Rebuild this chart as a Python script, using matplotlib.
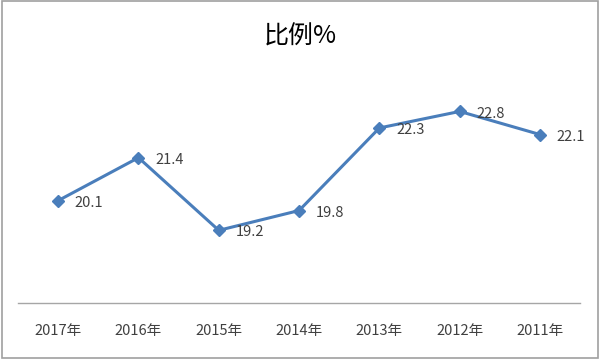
import matplotlib.pyplot as plt
from matplotlib.patches import Rectangle

plt.rcParams['font.family'] = ['Noto Sans CJK SC', 'DejaVu Sans']

# data
years = ['2017年', '2016年', '2015年', '2014年', '2013年', '2012年', '2011年']
ratio = [20.1, 21.4, 19.2, 19.8, 22.3, 22.8, 22.1]

fig = plt.figure(figsize=(6, 3.59), dpi=100)
ax = fig.add_axes([0.03, 0.156, 0.937, 0.644])

x = list(range(len(years)))
ax.plot(x, ratio, color='#4a7ebb', lw=2.2, marker='D', ms=6, zorder=3)

for xi, v in zip(x, ratio):
    ax.annotate(f'{v}', (xi, v), xytext=(12, -1.5), textcoords='offset points',
                va='center', ha='left', fontsize=10.5, color='#404040')

ax.set_xlim(-0.5, len(years) - 0.5)
ax.set_ylim(17, 24)
ax.set_xticks(x)
ax.set_xticklabels(years, fontsize=10.5, color='#404040')
ax.tick_params(axis='x', length=0, pad=15)
ax.set_yticks([])
for s in ['top', 'right', 'left']:
    ax.spines[s].set_visible(False)
ax.spines['bottom'].set_color('#a6a6a6')
ax.spines['bottom'].set_linewidth(1)

fig.text(0.5, 0.898, '比例%', ha='center', va='center', fontsize=18, color='black')

# chart border
fig.patches.append(Rectangle((0.003, 0.004), 0.994, 0.992, transform=fig.transFigure,
                             fill=False, edgecolor='#a0a0a0', lw=1.2))

fig.savefig('out.png', dpi=100)
